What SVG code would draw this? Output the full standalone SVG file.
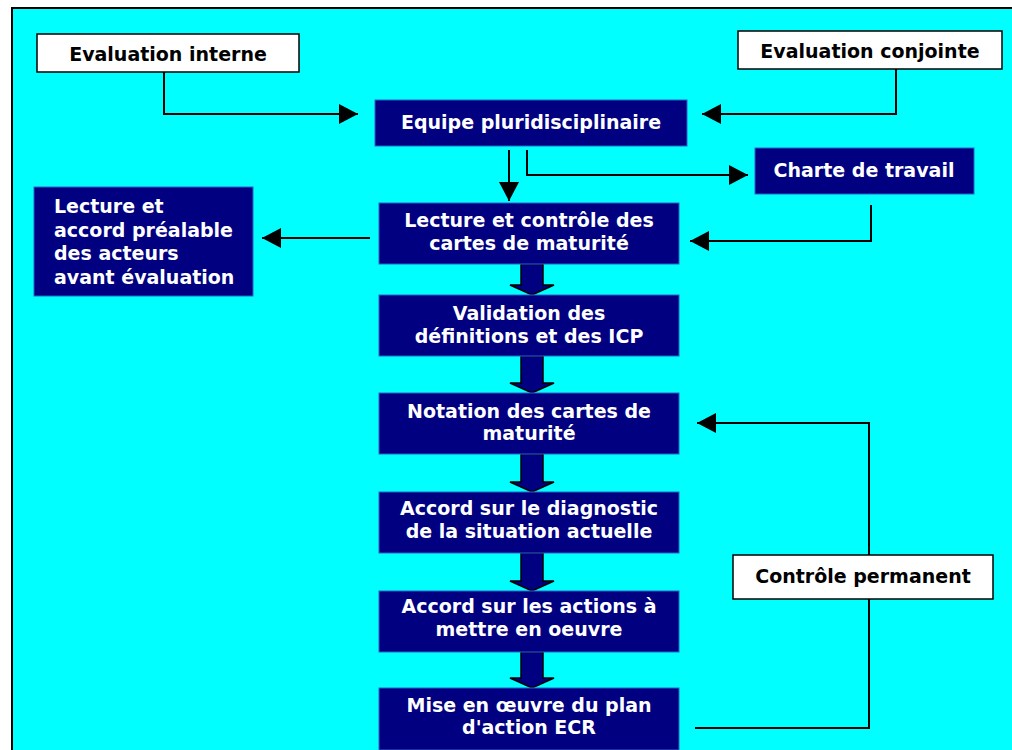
<svg xmlns="http://www.w3.org/2000/svg" width="1012" height="750" viewBox="0 0 1012 750">
  <defs>
    <marker id="head" markerUnits="userSpaceOnUse" markerWidth="20" markerHeight="20" viewBox="0 0 20 20" refX="19" refY="10" orient="auto">
      <path d="M0,0 L19,10 L0,20 Z" fill="#000"/>
    </marker>
    <style>
      .frame { fill: #00FFFF; stroke: #000; stroke-width: 2; }
      .step { fill: #000080; stroke: #2f62c8; stroke-width: 1; }
      .tag { fill: #fff; stroke: #000; stroke-width: 1.5; }
      .lt { font-family: "DejaVu Sans", Verdana, sans-serif; font-weight: bold; font-size: 19px; fill: #fff; text-anchor: middle; }
      .dk { font-family: "DejaVu Sans", Verdana, sans-serif; font-weight: bold; font-size: 19px; fill: #000; text-anchor: middle; }
      .lft { text-anchor: start; }
      .wire { fill: none; stroke: #000; stroke-width: 2; }
      .arrow { fill: none; stroke: #000; stroke-width: 2; marker-end: url(#head); }
      .block { fill: #000080; stroke: #000; stroke-width: 1.5; stroke-linejoin: miter; }
    </style>
  </defs>

  <!-- background panel -->
  <rect class="frame" x="12" y="8" width="1010" height="760"/>

  <!-- connectors -->
  <g id="connectors">
    <path class="arrow" d="M164,72 V114 H358"/>
    <path class="arrow" d="M896,69 V114 H702"/>
    <path class="arrow" d="M509,150 V201"/>
    <path class="arrow" d="M527,150 V175 H748"/>
    <path class="arrow" d="M871,205 V241 H690"/>
    <path class="arrow" d="M370,238 H262"/>
    <path class="arrow" d="M869,555 V423 H697"/>
    <path class="wire" d="M869,599 V728 H695"/>
    <!-- block arrows between the main steps -->
    <path class="block" d="M521,264 V285 H510 L532,295 L554,285 H543 V264 Z"/>
    <path class="block" d="M521,356 V383 H510 L532,393 L554,383 H543 V356 Z"/>
    <path class="block" d="M521,454 V482 H510 L532,492 L554,482 H543 V454 Z"/>
    <path class="block" d="M521,553 V581 H510 L532,591 L554,581 H543 V553 Z"/>
    <path class="block" d="M521,652 V678 H510 L532,688 L554,678 H543 V652 Z"/>
  </g>

  <g id="eval-interne">
    <rect class="tag" x="37" y="34" width="262" height="38"/>
    <text class="dk" x="168" y="61">Evaluation interne</text>
  </g>

  <g id="eval-conjointe">
    <rect class="tag" x="738" y="31" width="264" height="38"/>
    <text class="dk" x="870" y="58">Evaluation conjointe</text>
  </g>

  <g id="equipe">
    <rect class="step" x="375" y="100" width="312" height="46"/>
    <text class="lt" x="531" y="129">Equipe pluridisciplinaire</text>
  </g>

  <g id="charte">
    <rect class="step" x="755" y="148" width="219" height="46"/>
    <text class="lt" x="864" y="177">Charte de travail</text>
  </g>

  <g id="lecture-accord">
    <rect class="step" x="34" y="187" width="219" height="109"/>
    <text class="lt lft" x="54" y="213">Lecture et</text>
    <text class="lt lft" x="54" y="236.5">accord préalable</text>
    <text class="lt lft" x="54" y="260">des acteurs</text>
    <text class="lt lft" x="54" y="283.5">avant évaluation</text>
  </g>

  <g id="lecture-controle">
    <rect class="step" x="379" y="203" width="300" height="61"/>
    <text class="lt" x="529" y="227">Lecture et contrôle des</text>
    <text class="lt" x="529" y="250">cartes de maturité</text>
  </g>

  <g id="validation">
    <rect class="step" x="379" y="295" width="300" height="61"/>
    <text class="lt" x="529" y="320">Validation des</text>
    <text class="lt" x="529" y="343">définitions et des ICP</text>
  </g>

  <g id="notation">
    <rect class="step" x="379" y="393" width="300" height="61"/>
    <text class="lt" x="529" y="418">Notation des cartes de</text>
    <text class="lt" x="529" y="440">maturité</text>
  </g>

  <g id="diagnostic">
    <rect class="step" x="379" y="492" width="300" height="61"/>
    <text class="lt" x="529" y="515">Accord sur le diagnostic</text>
    <text class="lt" x="529" y="538">de la situation actuelle</text>
  </g>

  <g id="actions">
    <rect class="step" x="379" y="591" width="300" height="61"/>
    <text class="lt" x="529" y="613">Accord sur les actions à</text>
    <text class="lt" x="529" y="636">mettre en oeuvre</text>
  </g>

  <g id="mise-en-oeuvre">
    <rect class="step" x="379" y="688" width="300" height="62"/>
    <text class="lt" x="529" y="712">Mise en œuvre du plan</text>
    <text class="lt" x="529" y="734">d'action ECR</text>
  </g>

  <g id="controle-permanent">
    <rect class="tag" x="733" y="555" width="260" height="44"/>
    <text class="dk" x="863" y="583">Contrôle permanent</text>
  </g>
</svg>
